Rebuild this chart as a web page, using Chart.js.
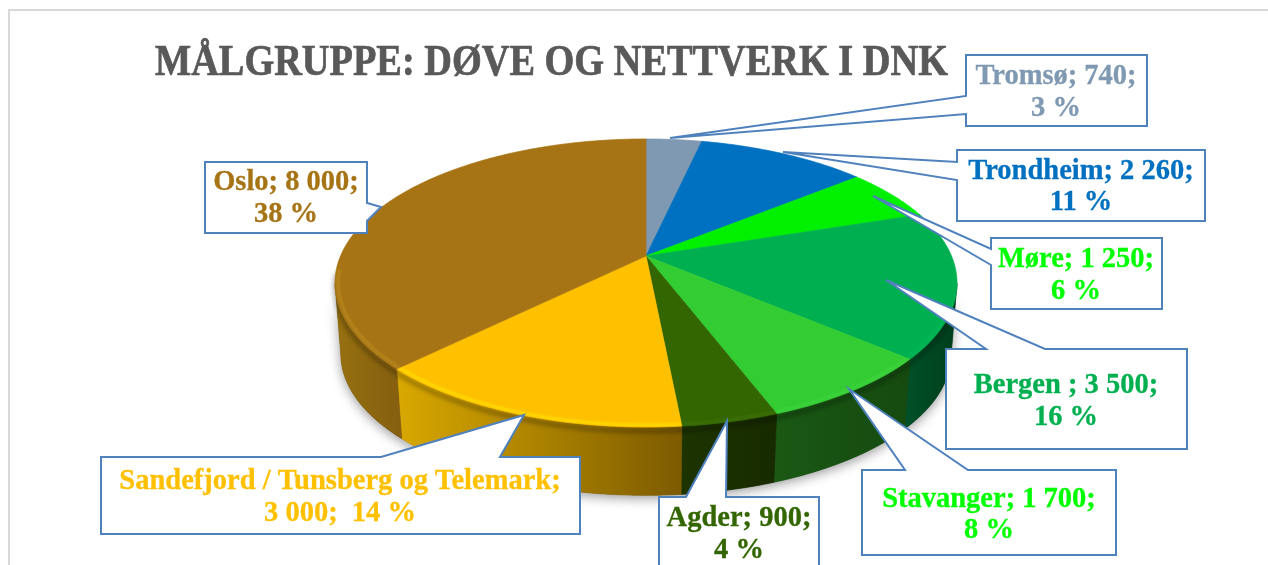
<!DOCTYPE html>
<html><head><meta charset="utf-8">
<style>html,body{margin:0;padding:0;background:#fff}canvas{display:block}</style>
<script src="https://cdn.jsdelivr.net/npm/chart.js@4"></script></head>
<body><canvas id="c" width="1268" height="565"></canvas>
<script>
const chartTitle = 'MÅLGRUPPE: DØVE OG NETTVERK I DNK';
const categories = ['Tromsø','Trondheim','Møre','Bergen','Stavanger','Agder','Sandefjord / Tunsberg og Telemark','Oslo'];
const values = [740,2260,1250,3500,1700,900,3000,8000];
const labelLines = [
 ['Tromsø; 740;','3 %'],['Trondheim; 2 260;','11 %'],['Møre; 1 250;','6 %'],['Bergen ; 3 500;','16 %'],
 ['Stavanger; 1 700;','8 %'],['Agder; 900;','4 %'],['Sandefjord / Tunsberg og Telemark;','3 000;  14 %'],['Oslo; 8 000;','38 %']];
const faceColors = ['#7f99b2','#0070c0','#00f000','#00b050','#33cc33','#336600','#ffc000','#a67414'];
const labelColors = ['#7f99b2','#0070c0','#00ff00','#00b050','#00ff00','#336600','#ffc000','#a67414'];
const sideStops = [['#5f7386','#5f7386'],['#00508c','#00508c'],['#00a000','#00a000'],['#003d1c','#004f27'],['#154a0f','#1a5814'],['#172a00','#1d3400'],['#7d5b00','#d9a800'],['#86600f','#96700f']];
const rimColors = ['#8fa8c0','#1080d0','#30ff30','#00b858','#3fd43f','#3d7008','#ffe000','#bb8a20'];
const callouts = [
 {box:[966,55,181,71],side:'left',tail:[[966,114],[670,138],[966,96]],text:[1056,77,109]},
 {box:[957,150,248,71],side:'left',tail:[[957,180],[783,152],[957,162]],text:[1081,172,203]},
 {box:[991,238,171,71],side:'left',tail:[[991,265],[873,196],[991,249]],text:[1076,260,292]},
 {box:[946,349,241,100],side:'top',tail:[[986,349],[886,280],[1045,349]],text:[1066,386,418]},
 {box:[862,470,254,85],side:'top',tail:[[905,470],[849,389],[968,470]],text:[989,500,531]},
 {box:[659,497,160,100],side:'top',tail:[[686,497],[727,421],[726,497]],text:[739,519,551]},
 {box:[101,457,479,77],side:'top',tail:[[381,457],[524,415],[500,457]],text:[340,482,514]},
 {box:[205,162,162,71],side:'right',tail:[[367,203],[381,207],[367,221]],text:[286,183,215]}];
const CX=646, CY=256, B=305.5, A=139, P=0.1875, DEPTH=72, BOTTOM=0.982, A0=0.19, A1=Math.PI-0.19;
function proj(a,d=0,s=1){const u=Math.cos(a)*s,v=Math.sin(a)*s,k=1-P*v;return [CX+B*u/k,CY+A*v/k+d];}
function arcPts(ctx,s,e,d,rs,move){const n=Math.max(4,Math.ceil(Math.abs(e-s)/0.01));
 for(let i=0;i<=n;i++){const p=proj(s+(e-s)*i/n,d,rs);(i===0&&move)?ctx.moveTo(p[0],p[1]):ctx.lineTo(p[0],p[1]);}}
const pie3d={id:'pie3d',
 beforeDatasetsDraw(chart){
  const ctx=chart.ctx, arcs=chart.getDatasetMeta(0).data;
  ctx.save();
  ctx.strokeStyle='#d9d9d9';ctx.lineWidth=2;ctx.strokeRect(9,10,1400,700);
  ctx.fillStyle='#595959';ctx.strokeStyle='#595959';ctx.lineWidth=.7;ctx.font='bold 43.3px "Liberation Serif"';ctx.textBaseline='alphabetic';ctx.textAlign='left';
  ctx.save();ctx.translate(155,75);ctx.scale(793/ctx.measureText(chartTitle).width,1);ctx.fillText(chartTitle,0,0);ctx.strokeText(chartTitle,0,0);ctx.restore();
  ctx.save();ctx.shadowColor='rgba(0,0,0,.4)';ctx.shadowBlur=12;ctx.shadowOffsetY=3;ctx.fillStyle='#444';
  ctx.beginPath();arcPts(ctx,A0,A1,DEPTH,BOTTOM,true);arcPts(ctx,A1,A0,0,1,false);ctx.closePath();ctx.fill();ctx.restore();
  arcs.forEach((el,i)=>{const p=el.getProps(['startAngle','endAngle']);
   const s=Math.max(p.startAngle,A0),e=Math.min(p.endAngle,A1);if(e<=s)return;
   const a=proj(s),b=proj(e);
   const g=ctx.createLinearGradient(a[0],0,b[0],0);
   g.addColorStop(0,sideStops[i][0]);g.addColorStop(1,sideStops[i][1]);
   ctx.fillStyle=g;ctx.strokeStyle=g;ctx.lineWidth=.6;ctx.beginPath();arcPts(ctx,s,e,0,1,true);
   arcPts(ctx,e,s,DEPTH,BOTTOM,false);ctx.closePath();ctx.fill();ctx.stroke();});
  arcs.forEach((el,i)=>{const p=el.getProps(['startAngle','endAngle']);
   const s=Math.max(p.startAngle,0.4),e=Math.min(p.endAngle,Math.PI*0.97);
   if(e<=s)return;
   ctx.save();ctx.strokeStyle='rgba(0,0,0,.3)';ctx.lineWidth=4;ctx.filter='blur(2px)';
   ctx.beginPath();arcPts(ctx,s,e,4,1,true);ctx.stroke();ctx.restore();});
  arcs.forEach((el,i)=>{const p=el.getProps(['startAngle','endAngle']);
   ctx.fillStyle=el.options.backgroundColor;ctx.strokeStyle=el.options.backgroundColor;ctx.lineWidth=.7;
   ctx.beginPath();ctx.moveTo(CX,CY);arcPts(ctx,p.startAngle,p.endAngle,0,1,false);ctx.closePath();ctx.fill();ctx.stroke();});
  arcs.forEach((el,i)=>{const p=el.getProps(['startAngle','endAngle']);
   const s=Math.max(p.startAngle,0.4),e=Math.min(p.endAngle,Math.PI*0.97);
   if(e<=s)return;
   ctx.save();ctx.beginPath();ctx.moveTo(CX,CY);arcPts(ctx,p.startAngle,p.endAngle,0,1,false);ctx.closePath();ctx.clip();
   ctx.strokeStyle=rimColors[i];ctx.lineWidth=3;ctx.globalAlpha=.8;ctx.filter='blur(1.2px)';
   ctx.beginPath();arcPts(ctx,s,e,0,.99,true);ctx.stroke();ctx.restore();});
  ctx.restore();
  return false;
 },
 afterDraw(chart){
  const ctx=chart.ctx;ctx.save();
  callouts.forEach((c,i)=>{const [x,y,w,h]=c.box,t=c.tail;let pts;
   const TL=[x,y],TR=[x+w,y],BR=[x+w,y+h],BL=[x,y+h];
   if(c.side==='top')pts=[TL,...t,TR,BR,BL];
   else if(c.side==='left')pts=[TL,TR,BR,BL,...t];
   else pts=[TL,TR,...t,BR,BL];
   ctx.beginPath();pts.forEach((q,j)=>j?ctx.lineTo(q[0],q[1]):ctx.moveTo(q[0],q[1]));ctx.closePath();
   ctx.fillStyle='#fff';ctx.fill();ctx.strokeStyle='#4f81bd';ctx.lineWidth=2;ctx.stroke();
   ctx.fillStyle=labelColors[i];ctx.strokeStyle=labelColors[i];ctx.lineWidth=.3;ctx.font='bold 28.5px "Liberation Serif"';ctx.textAlign='center';ctx.textBaseline='middle';
   [0,1].forEach(k=>{ctx.fillText(labelLines[i][k],c.text[0],c.text[k+1]);ctx.strokeText(labelLines[i][k],c.text[0],c.text[k+1]);});});
  ctx.restore();
 }};
new Chart(document.getElementById('c'),{type:'pie',
 data:{labels:categories,datasets:[{data:values,backgroundColor:faceColors,borderWidth:0}]},
 plugins:[pie3d],
 options:{responsive:false,animation:false,rotation:0,events:[],
  plugins:{legend:{display:false},tooltip:{enabled:false},title:{display:false}}}});
</script></body></html>
